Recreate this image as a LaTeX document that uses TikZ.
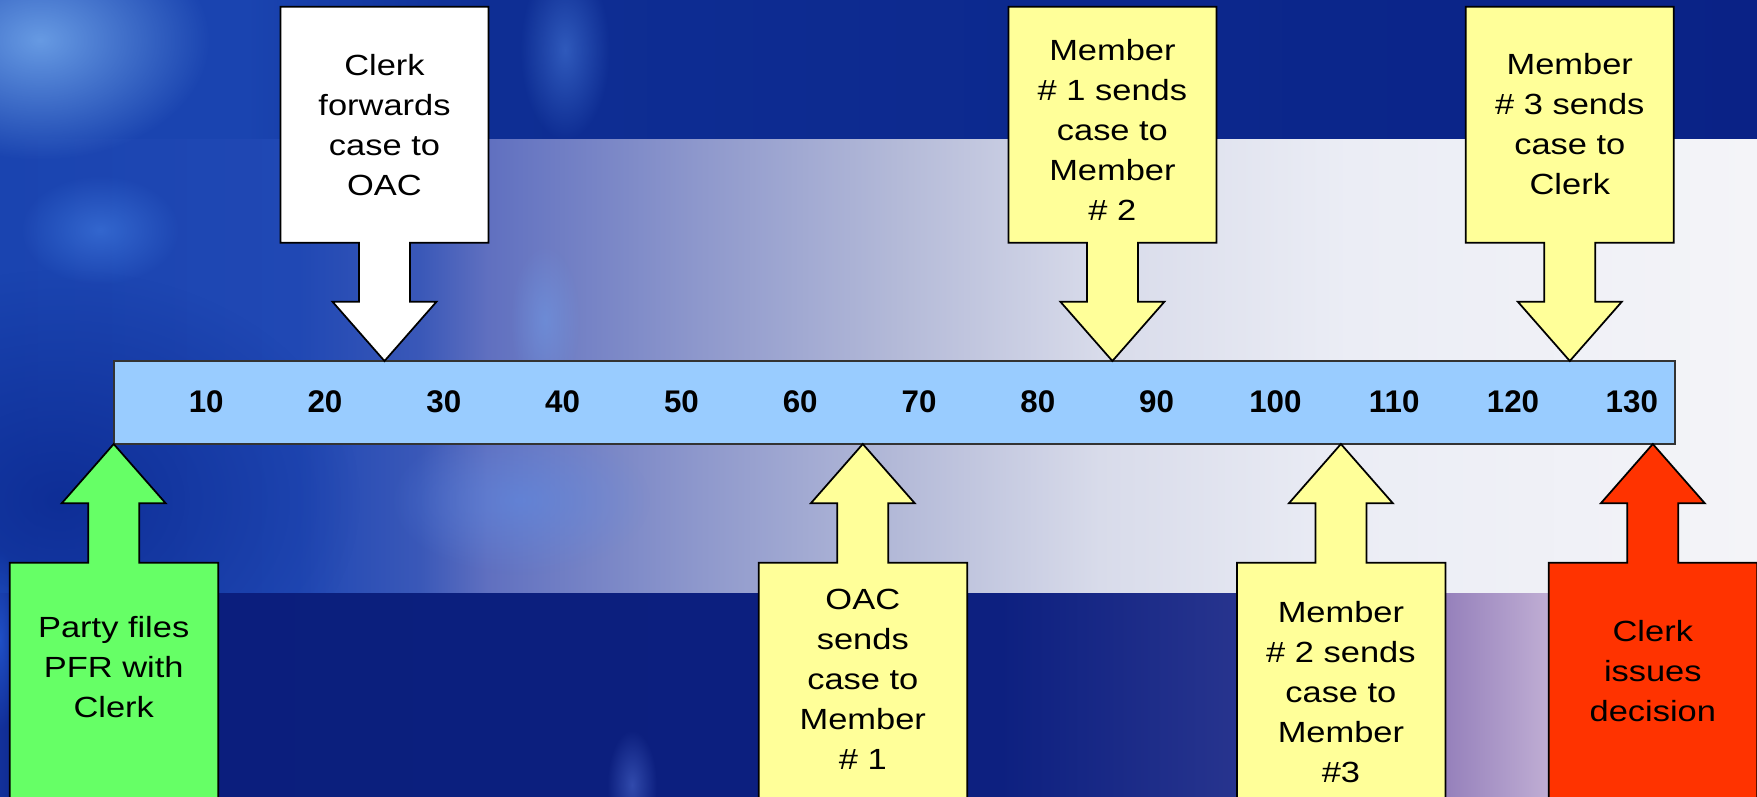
\documentclass[tikz,border=0pt]{standalone}
\usepackage{fontspec}
\setmainfont{Liberation Sans}
\newfontfamily\callfont{Liberation Sans}[FakeStretch=1.18]
\usetikzlibrary{fadings}

\definecolor{bgbase}{HTML}{1A44B0}
\definecolor{bgleftlow}{HTML}{0C2A92}
\definecolor{barblue}{HTML}{99CCFF}
\definecolor{cyellow}{HTML}{FFFF99}
\definecolor{cgreen}{HTML}{66FF66}
\definecolor{cred}{HTML}{FF3300}
% stripe colours
\definecolor{st0}{HTML}{1A44B0}
\definecolor{sta}{HTML}{2048B4}
\definecolor{stb}{HTML}{3A58B8}
\definecolor{st1}{HTML}{6070C0}
\definecolor{st2}{HTML}{8E98CC}
\definecolor{st3}{HTML}{B4BAD8}
\definecolor{st4}{HTML}{D8DBEA}
\definecolor{st5}{HTML}{EBEDF5}
\definecolor{st6}{HTML}{F4F4F8}
% bottom band colours
\definecolor{bb0}{HTML}{12309A}
\definecolor{bb1}{HTML}{0A1E7C}
\definecolor{bb2}{HTML}{0D2080}
\definecolor{bb3}{HTML}{27348E}
\definecolor{bb4}{HTML}{4A4A9C}
\definecolor{bb5}{HTML}{9580BB}
\definecolor{bb6}{HTML}{C0AED4}
\definecolor{bb7}{HTML}{D4C6DE}
% top band colours
\definecolor{tb0}{HTML}{1A44B0}
\definecolor{tb2}{HTML}{0E2E94}
\definecolor{tb3}{HTML}{0A2286}
% glow colours
\definecolor{gl1}{RGB}{122,176,240}
\definecolor{gl2}{RGB}{70,120,215}
\definecolor{gl3}{RGB}{70,130,230}
\definecolor{gl4}{RGB}{95,140,228}
\definecolor{gl5}{RGB}{110,155,232}
\definecolor{gl6}{RGB}{80,110,210}
\definecolor{gl7}{RGB}{40,100,225}

\pgfdeclarehorizontalshading{stripeshade}{100bp}{color(0bp)=(st0); color(25bp)=(st0); color(33.5bp)=(sta); color(36.95bp)=(stb); color(38.9bp)=(st1); color(44.9bp)=(st2); color(50.6bp)=(st3); color(56.3bp)=(st4); color(63.4bp)=(st5); color(75bp)=(st6); color(100bp)=(st6)}
\pgfdeclarehorizontalshading{bottomshade}{100bp}{color(0bp)=(bb0); color(25bp)=(bb0); color(26.7bp)=(bb1); color(53.46bp)=(bb2); color(60.17bp)=(bb3); color(62bp)=(bb4); color(66.1bp)=(bb5); color(69.1bp)=(bb6); color(75bp)=(bb7); color(100bp)=(bb7)}
\pgfdeclarehorizontalshading{topshade}{100bp}{color(0bp)=(tb0); color(25bp)=(tb0); color(32bp)=(tb0); color(38.9bp)=(tb2); color(75bp)=(tb3); color(100bp)=(tb3)}

\tikzfading[name=glowfade, inner color=transparent!0, outer color=transparent!100]

\tikzset{
  calloutshape/.style={draw=black, line width=0.5pt, line join=miter},
  calltext/.style={font=\callfont\fontsize{8.3}{11.38}\selectfont, align=center, inner sep=0pt, text=black},
  numtext/.style={font=\bfseries\fontsize{8.9}{10}\selectfont, inner sep=0pt, anchor=base, text=black},
  glow/.style={path fading=glowfade},
}

\newcommand\calldown[2]{%
  \draw[calloutshape, fill=#2, shift={(#1,0)}] (-104,6.7) -- (104,6.7) -- (104,242.7) -- (25.5,242.7) -- (25.5,301.7) -- (52,301.7) -- (0,361) -- (-52,301.7) -- (-25.5,301.7) -- (-25.5,242.7) -- (-104,242.7) -- cycle;}
\newcommand\callup[2]{%
  \draw[calloutshape, fill=#2, shift={(#1,0)}] (0,444) -- (52,503.3) -- (25.5,503.3) -- (25.5,562.7) -- (104.5,562.7) -- (104.5,840) -- (-104,840) -- (-104,562.7) -- (-25.5,562.7) -- (-25.5,503.3) -- (-52,503.3) -- cycle;}

\begin{document}
\begin{tikzpicture}[x=0.01cm, y=-0.01cm]
\useasboundingbox (0,0) rectangle (1757,796);
\clip (0,0) rectangle (1757,796);

% ---------- background ----------
\fill[bgbase] (0,0) rectangle (1757,796);
\path[shading=topshade] (0,0) rectangle (1757,139);
\path[shading=stripeshade] (0,139) rectangle (1757,593);
\begin{scope}
  \clip (0,139) rectangle (1757,593);
  \fill[glow, bgleftlow, opacity=0.85] (60,500) ellipse [x radius=300, y radius=230];
\end{scope}
\path[shading=bottomshade] (0,593) rectangle (1757,796);

% soft highlights
\fill[glow, gl1, opacity=0.8] (40,40) ellipse [x radius=170, y radius=120];
\fill[glow, gl2, opacity=0.6] (565,50) ellipse [x radius=45, y radius=90];
\fill[glow, gl3, opacity=0.55] (100,230) ellipse [x radius=80, y radius=55];
\fill[glow, gl4, opacity=0.55] (520,500) ellipse [x radius=130, y radius=75];
\fill[glow, gl5, opacity=0.5] (545,320) ellipse [x radius=35, y radius=75];
\fill[glow, gl6, opacity=0.55] (632,785) ellipse [x radius=25, y radius=55];
\fill[glow, gl7, opacity=0.6] (0,640) ellipse [x radius=22, y radius=90];

% ---------- timeline bar ----------
\path[draw=black!80, line width=0.5pt, fill=barblue] (114,361) rectangle (1675,444);
\foreach \v [count=\i from 0] in {10,20,...,130}
  \node[numtext] (n\v) at ({206.2+118.8*\i},412.7) {\v};

% ---------- callouts above ----------
\calldown{384.5}{white}
\calldown{1112.4}{cyellow}
\calldown{1569.8}{cyellow}
\node[calltext] (t1) at (384.5,125) {Clerk\\forwards\\case to\\OAC};
\node[calltext] (t2) at (1112.4,130) {Member\\\# 1 sends\\case to\\Member\\\# 2};
\node[calltext] (t3) at (1569.8,124.2) {Member\\\# 3 sends\\case to\\Clerk};

% ---------- callouts below ----------
\callup{113.7}{cgreen}
\callup{862.8}{cyellow}
\callup{1340.9}{cyellow}
\callup{1652.8}{cred}
\node[calltext] (b1) at (113.7,667.5) {Party files\\PFR with\\Clerk};
\node[calltext] (b2) at (862.8,679) {OAC\\sends\\case to\\Member\\\# 1};
\node[calltext] (b3) at (1340.9,692.5) {Member\\\# 2 sends\\case to\\Member\\\#3};
\node[calltext] (b4) at (1652.8,670.8) {Clerk\\issues\\decision};
\end{tikzpicture}
\end{document}
